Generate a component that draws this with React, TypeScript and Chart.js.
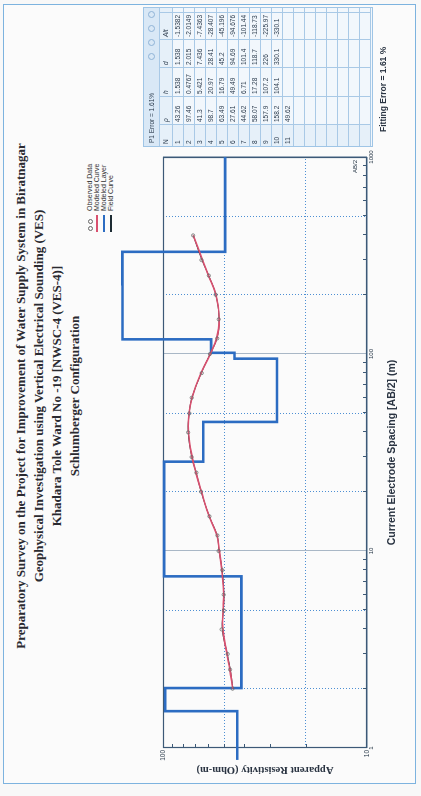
import React, { useEffect, useRef } from "react";
import { Chart, registerables } from "chart.js";

Chart.register(...registerables);

// ---- text ----
const TITLE_LINES = [
  "Preparatory Survey on the Project for Improvement of Water Supply System in Biratnagar",
  "Geophysical Investigation using Vertical Electrical Sounding (VES)",
  "Khadara Tole Ward No -19 [NWSC-4 (VES-4)]",
  "Schlumberger Configuration",
];
const LEGEND_ITEMS = ["Observed Data", "Modeled Curve", "Modeled Layer", "Field Curve"];
const X_TITLE = "Current Electrode Spacing [AB/2] (m)";
const Y_TITLE = "Apparent Resistivity (Ohm-m)";
const FIT_TEXT = "Fitting Error = 1.61 %";
const TABLE_TITLE = "P1  Error = 1.61%";
const TABLE_HEAD = ["N", "\u03C1", "h", "d", "Alt"];

// ---- sounding curve (AB/2 in m, apparent resistivity in Ohm-m) ----
const AB2 = [2, 2.5, 3, 4, 5, 6, 8, 10, 12, 15, 20, 25, 30, 40, 50, 60, 80, 100, 120, 150, 200, 250, 300, 400];
const RHO_OBSERVED = [45.6, 46.9, 48.2, 51.6, 50.3, 50.4, 51.2, 53.4, 54.1, 59.2, 65.1, 68.6, 72.4, 75.3, 74.2, 72.3, 64.6, 58.9, 54.2, 53.3, 55.2, 59.6, 64.8, 71.2];
const RHO_MODELED = [45.5, 47.0, 48.6, 50.9, 50.8, 50.4, 51.5, 52.9, 54.4, 59.4, 64.8, 69.0, 72.0, 75.0, 74.6, 72.0, 65.2, 58.6, 54.6, 53.0, 55.0, 59.8, 64.0, 71.0];
const RHO_FIELD = [45.4, 46.8, 48.4, 51.2, 50.6, 50.3, 51.3, 53.1, 54.3, 59.3, 65.0, 68.8, 72.2, 75.2, 74.4, 72.1, 64.9, 58.8, 54.4, 53.1, 55.1, 59.7, 64.4, 71.1];

// ---- layered model ----
const LAYER_N = [1, 2, 3, 4, 5, 6, 7, 8, 9, 10, 11];
const LAYER_RHO = [43.26, 97.46, 41.3, 98.7, 63.49, 27.61, 44.62, 58.07, 157.9, 158.2, 49.62];
const LAYER_H = [1.538, 0.4767, 5.421, 20.97, 16.79, 49.49, 6.71, 17.28, 107.2, 104.1];
const LAYER_D = [1.538, 2.015, 7.436, 28.41, 45.2, 94.69, 101.4, 118.7, 226, 330.1];
const LAYER_ALT = ["-1.5382", "-2.0149", "-7.4363", "-28.407", "-45.196", "-94.676", "-101.44", "-118.73", "-225.97", "-330.1"];
const LAYER_FIRST_X = 0.87; // first layer is drawn from just left of the axis

// ---- axes ----
const X_MIN = 1;
const X_MAX = 1000;
const Y_MIN = 10;
const Y_MAX = 100;
const X_GRID = [1, 2, 5, 10, 20, 50, 100, 200, 500, 1000];
const Y_GRID = [10, 20, 50, 100];
const X_DECADES = [1, 10, 100];
const Y_DECADES = [10];
const MINOR_STEPS = [2, 3, 4, 5, 6, 7, 8, 9];

const PAGE_W = 796;
const PAGE_H = 421;
const BLUE = "#2c6cc2";
const PINK = "#d9506f";
const FRAME = "#3c5977";

const isDecade = (v: number) => Math.abs(Math.log10(v) - Math.round(Math.log10(v))) < 1e-6;

function layerPath() {
  const pts: { x: number; y: number }[] = [{ x: LAYER_FIRST_X, y: LAYER_RHO[0] }];
  LAYER_D.forEach((d, i) => {
    pts.push({ x: d, y: LAYER_RHO[i] });
    pts.push({ x: d, y: LAYER_RHO[i + 1] });
  });
  pts.push({ x: X_MAX, y: LAYER_RHO[LAYER_RHO.length - 1] });
  return pts;
}

const plotDecor = {
  id: "plotDecor",
  beforeDatasetsDraw(chart: any) {
    const { ctx, chartArea: a, scales } = chart;
    ctx.save();
    ctx.strokeStyle = FRAME;
    ctx.lineWidth = 1;
    ctx.beginPath();
    X_DECADES.forEach((dec) =>
      MINOR_STEPS.forEach((m) => {
        const px = Math.round(scales.x.getPixelForValue(dec * m)) + 0.5;
        ctx.moveTo(px, a.bottom);
        ctx.lineTo(px, a.bottom - 4);
      })
    );
    Y_DECADES.forEach((dec) =>
      MINOR_STEPS.forEach((m) => {
        const py = Math.round(scales.y.getPixelForValue(dec * m)) + 0.5;
        ctx.moveTo(a.left, py);
        ctx.lineTo(a.left + 4, py);
      })
    );
    ctx.stroke();
    ctx.lineWidth = 1.2;
    ctx.strokeRect(a.left + 0.5, a.top + 0.5, a.width - 1, a.height - 1);
    ctx.fillStyle = "#2a3a4a";
    ctx.font = "6px 'Liberation Sans', Arial, sans-serif";
    ctx.textAlign = "right";
    ctx.fillText("AB/2", a.right - 3, a.bottom - 10);
    ctx.restore();
  },
};

function Legend() {
  return (
    <div style={{ position: "absolute", left: 562, top: 86, fontFamily: "'Liberation Sans', Arial, sans-serif", fontSize: 7, color: "#333", lineHeight: "7px" }}>
      {LEGEND_ITEMS.map((label, i) => (
        <div key={label} style={{ display: "flex", alignItems: "center", height: 7 }}>
          <div style={{ width: 20, height: 7, position: "relative" }}>
            {i === 0 ? (
              <>
                <span style={{ position: "absolute", left: 3, top: 1.5, width: 3, height: 3, borderRadius: 3, border: "1px solid #666" }} />
                <span style={{ position: "absolute", left: 10, top: 1.5, width: 3, height: 3, borderRadius: 3, border: "1px solid #666" }} />
              </>
            ) : (
              <span style={{ position: "absolute", left: 2, top: 3, width: 17, height: 1.5, background: i === 1 ? PINK : i === 2 ? BLUE : "#1d2b33" }} />
            )}
          </div>
          <span style={{ marginLeft: 3 }}>{label}</span>
        </div>
      ))}
    </div>
  );
}

const COL_W = [22, 28, 29, 28, 27, 6];
const ROW_H = 11;
const TOTAL_ROWS = 18;

function LayerTable() {
  const rows = [];
  for (let r = 0; r < TOTAL_ROWS; r++) {
    const cells =
      r < LAYER_N.length
        ? [
            String(LAYER_N[r]),
            String(LAYER_RHO[r]),
            r < LAYER_H.length ? String(LAYER_H[r]) : "",
            r < LAYER_D.length ? String(LAYER_D[r]) : "",
            r < LAYER_ALT.length ? LAYER_ALT[r] : "",
            "",
          ]
        : ["", "", "", "", "", ""];
    rows.push(cells);
  }
  const cellStyle = (w: number): React.CSSProperties => ({
    width: w,
    minWidth: w,
    height: ROW_H,
    borderRight: "1px solid #a9c9e6",
    borderBottom: "1px solid #a9c9e6",
    boxSizing: "border-box",
    paddingLeft: 2,
    overflow: "hidden",
    whiteSpace: "nowrap",
    lineHeight: `${ROW_H - 1}px`,
  });
  return (
    <div
      style={{
        position: "absolute",
        left: 649,
        top: 143,
        width: 140,
        height: 230,
        border: "1px solid #9fc5e6",
        background: "#f2f7fc",
        boxSizing: "border-box",
        fontFamily: "'Liberation Sans', Arial, sans-serif",
        fontSize: 6.5,
        color: "#2c3c4e",
        overflow: "hidden",
      }}
    >
      <div style={{ height: 16, background: "#d9e8f6", display: "flex", alignItems: "center", paddingLeft: 3, borderBottom: "1px solid #a9c9e6", boxSizing: "border-box" }}>
        <span>{TABLE_TITLE}</span>
        <span style={{ flex: 1 }} />
        {[0, 1, 2, 3].map((k) => (
          <span key={k} style={{ width: 5, height: 5, borderRadius: 5, border: "1px solid #8fb3d6", marginRight: k === 3 ? 3 : 7 }} />
        ))}
      </div>
      <div style={{ display: "flex", height: 13, background: "#e6f0f9" }}>
        {TABLE_HEAD.concat([""]).map((h, i) => (
          <div key={i} style={{ ...cellStyle(COL_W[i]), height: 13, lineHeight: "12px", fontStyle: i === 0 ? "normal" : "italic" }}>
            {h}
          </div>
        ))}
      </div>
      {rows.map((cells, r) => (
        <div key={r} style={{ display: "flex" }}>
          {cells.map((c, i) => (
            <div key={i} style={{ ...cellStyle(COL_W[i]), background: i === 0 ? "#e6f0f9" : "transparent" }}>
              {c}
            </div>
          ))}
        </div>
      ))}
    </div>
  );
}

export default function App() {
  const canvasRef = useRef<HTMLCanvasElement>(null);

  useEffect(() => {
    const canvas = canvasRef.current;
    if (!canvas) return;
    const toPts = (ys: number[]) => AB2.map((x, i) => ({ x, y: ys[i] }));
    const chart = new Chart(canvas, {
      type: "line",
      data: {
        datasets: [
          {
            label: "Observed Data",
            data: toPts(RHO_OBSERVED),
            showLine: false,
            pointRadius: 1.6,
            pointBorderWidth: 0.8,
            pointBorderColor: "#6a6a6a",
            pointBackgroundColor: "rgba(255,255,255,0)",
          },
          {
            label: "Modeled Curve",
            data: toPts(RHO_MODELED),
            borderColor: PINK,
            borderWidth: 1.6,
            pointRadius: 0,
            tension: 0.4,
          },
          {
            label: "Field Curve",
            data: toPts(RHO_FIELD),
            borderColor: "#1d2b33",
            borderWidth: 1,
            pointRadius: 0,
            tension: 0.4,
          },
          {
            label: "Modeled Layer",
            data: layerPath(),
            borderColor: BLUE,
            borderWidth: 2.6,
            pointRadius: 0,
            tension: 0,
            clip: false,
          } as any,
        ],
      },
      options: {
        animation: false,
        responsive: false,
        maintainAspectRatio: false,
        parsing: false,
        layout: { padding: { left: 0, top: 163, right: 157, bottom: 0 } },
        plugins: { legend: { display: false }, tooltip: { enabled: false }, title: { display: false } },
        scales: {
          x: {
            type: "logarithmic",
            min: X_MIN,
            max: X_MAX,
            afterBuildTicks: (s: any) => {
              s.ticks = X_GRID.map((value) => ({ value }));
            },
            afterFit: (s: any) => {
              s.height = 54;
            },
            ticks: {
              autoSkip: false,
              maxRotation: 0,
              padding: 1,
              color: "#2a3a4a",
              font: { size: 6, family: "'Liberation Sans', Arial, sans-serif" },
              callback: (v: any) => (isDecade(Number(v)) ? String(Number(v)) : ""),
            },
            grid: {
              drawTicks: false,
              lineWidth: 1,
              color: (c: any) => (isDecade(c.tick?.value ?? 1) ? "#a9b7c6" : "#4d8fd3"),
            },
            border: {
              display: false,
              dash: (c: any) => (isDecade(c.tick?.value ?? 1) ? [] : [1, 2]),
            },
            title: {
              display: true,
              text: X_TITLE,
              color: "#2a3442",
              font: { size: 10.5, weight: "bold", family: "'Liberation Sans', Arial, sans-serif" },
              padding: { top: 0, bottom: 23 },
            },
          },
          y: {
            type: "logarithmic",
            min: Y_MIN,
            max: Y_MAX,
            afterBuildTicks: (s: any) => {
              s.ticks = Y_GRID.map((value) => ({ value }));
            },
            afterFit: (s: any) => {
              s.width = 48;
            },
            ticks: {
              autoSkip: false,
              padding: 2,
              color: "#2a3a4a",
              font: { size: 6.5, family: "'Liberation Sans', Arial, sans-serif" },
              callback: (v: any) => (isDecade(Number(v)) ? String(Number(v)) : ""),
            },
            grid: {
              drawTicks: false,
              lineWidth: 1,
              color: (c: any) => (isDecade(c.tick?.value ?? 10) ? "#a9b7c6" : "#4d8fd3"),
            },
            border: {
              display: false,
              dash: (c: any) => (isDecade(c.tick?.value ?? 10) ? [] : [1, 2]),
            },
            title: {
              display: true,
              text: Y_TITLE,
              color: "#2a3442",
              font: { size: 10.5, weight: "bold", family: "'Liberation Serif', 'Times New Roman', serif" },
              padding: { top: 20, bottom: 0 },
            },
          },
        },
      },
      plugins: [plotDecor],
    } as any);
    return () => chart.destroy();
  }, []);

  return (
    <div style={{ position: "fixed", left: 0, top: 0, width: 421, height: 796, overflow: "hidden", background: "#f7f7f7" }}>
      <div
        style={{
          position: "absolute",
          left: 0,
          top: 0,
          width: PAGE_W,
          height: PAGE_H,
          transformOrigin: "0 0",
          transform: `translateY(${PAGE_W}px) rotate(-90deg)`,
          background: "#f8f8f8",
        }}
      >
        <div style={{ position: "absolute", left: 12, top: 3, width: 778, height: 411, border: "1px solid #7db3df", background: "#fbfbfb" }} />
        {TITLE_LINES.map((t, i) => (
          <div
            key={i}
            style={{
              position: "absolute",
              left: 0,
              width: PAGE_W,
              top: 13 + i * 18,
              textAlign: "center",
              fontFamily: "'Liberation Serif', 'Times New Roman', serif",
              fontWeight: "bold",
              fontSize: 13,
              lineHeight: "16px",
              color: "#2a2a30",
              paddingLeft: 2,
            }}
          >
            {t}
          </div>
        ))}
        <Legend />
        <canvas ref={canvasRef} width={PAGE_W} height={PAGE_H} style={{ position: "absolute", left: 0, top: 0, width: PAGE_W, height: PAGE_H }} />
        <LayerTable />
        <div
          style={{
            position: "absolute",
            left: 664,
            top: 378,
            fontFamily: "'Liberation Sans', Arial, sans-serif",
            fontWeight: "bold",
            fontSize: 8.5,
            color: "#2a3442",
            whiteSpace: "nowrap",
          }}
        >
          {FIT_TEXT}
        </div>
      </div>
    </div>
  );
}
